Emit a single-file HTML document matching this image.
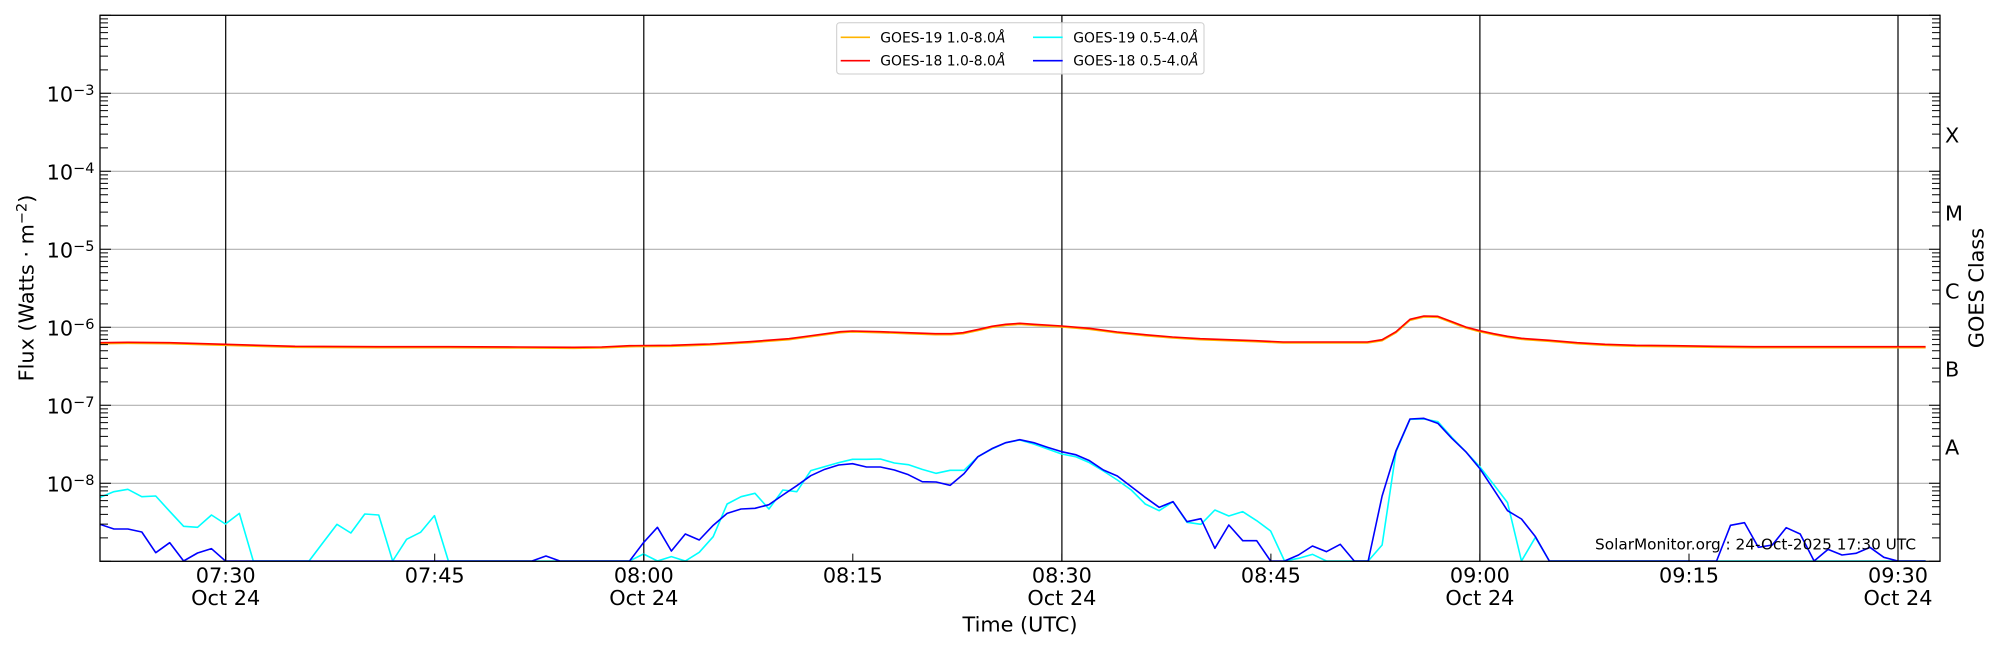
<!DOCTYPE html>
<html><head><meta charset="utf-8"><style>
html,body{margin:0;padding:0;background:#fff;}
svg{display:block;font-family:"DejaVu Sans","Liberation Sans",sans-serif;}
</style></head><body>
<svg width="2000" height="650" viewBox="0 0 2000 650" xmlns="http://www.w3.org/2000/svg">
<rect width="2000" height="650" fill="#fff"/>
<defs>
<clipPath id="ax"><rect x="100" y="15.3" width="1840" height="546"/></clipPath>
<path id="mnL" d="M100,-23.48h8M100,-37.22h8M100,-46.96h8M100,-54.52h8M100,-60.70h8M100,-65.92h8M100,-70.44h8M100,-74.43h8"/>
<path id="mnR" d="M1940,-23.48h-8M1940,-37.22h-8M1940,-46.96h-8M1940,-54.52h-8M1940,-60.70h-8M1940,-65.92h-8M1940,-70.44h-8M1940,-74.43h-8"/>
</defs>
<!-- grid -->
<g stroke="#b0b0b0" stroke-width="1.1">
<path d="M100,93.3H1940M100,171.3H1940M100,249.3H1940M100,327.3H1940M100,405.3H1940M100,483.3H1940"/>
</g>
<!-- vertical half-hour lines -->
<g stroke="#000" stroke-width="1.2">
<path d="M225.7,15.3V561.3M643.8,15.3V561.3M1061.9,15.3V561.3M1479.9,15.3V561.3M1898,15.3V561.3"/>
</g>
<!-- data -->
<g clip-path="url(#ax)">
<g transform="translate(100,300) scale(13.936,0.333333)" fill="none" stroke-linejoin="round">
<g transform="translate(0,3)">
<polyline vector-effect="non-scaling-stroke" stroke="#ffb400" stroke-width="1.6" points="0,128 2,127 5,128 9,133 14,139 20,140 25,140 30,141 34,142 36,141 38,137 41,136 43,133 43.77,132 46.61,125 49.44,116 50.86,108 53.13,95 53.98,93 55.97,95 57.95,98 59.94,101 61.07,101 61.93,98 63.06,88 64,79 64.99,73 66.01,70 67.03,73 69.02,78 71,85 72.99,96 74.98,104 76.96,111 78.95,116 80.93,119 82.92,122 84.9,126 88.25,126 90.94,126 92,119 93,95 94,58 95,48 96,49 97,65 98,81 99,92 100,101 101,109 102,115 104,121 106,128 108,133 110.2,136 113,137 115.9,139 118.7,140 131,140"/>
</g>
<polyline vector-effect="non-scaling-stroke" stroke="#ff0000" stroke-width="1.6" points="0,128 2,127 5,128 9,133 14,139 20,140 25,140 30,141 34,142 36,141 38,137 41,136 43,133 43.77,132 46.61,125 49.44,116 50.86,108 53.13,95 53.98,93 55.97,95 57.95,98 59.94,101 61.07,101 61.93,98 63.06,88 64,79 64.99,73 66.01,70 67.03,73 69.02,78 71,85 72.99,96 74.98,104 76.96,111 78.95,116 80.93,119 82.92,122 84.9,126 88.25,126 90.94,126 92,119 93,95 94,58 95,48 96,49 97,65 98,81 99,92 100,101 101,109 102,115 104,121 106,128 108,133 110.2,136 113,137 115.9,139 118.7,140 131,140"/>
<polyline vector-effect="non-scaling-stroke" stroke="#00ffff" stroke-width="1.6" points="0,592 1,575 2,568 3,590 4,588 5,634 6,679 7,682 8,645 9,672 10,640 11,783 15,783 16,728 17,673 18,699 19,642 20,645 21,783 22,718 23,697 24,647 25,783 38,783 39,762 40,783 41,770 42,783 43,757 44,710 45,612 46,590 47,580 48,627 49,570 50,575 51,512 52,500 53,488 54,478 55,478 56,477 57,489 58,494 59,508 60,520 61,511 62,511 63,470 64,447 65,428 66,420 67,432 68,447 69,462 70,470 71,488 72,513 73,540 74,570 75,612 76,632 77,605 78,667 79,673 80,630 81,648 82,635 83,662 84,693 85,783 86,775 87,763 88,783 91,783 92,735 93,455 94,358 95,357 96,365 97,412 98,455 99,500 100,553 101,608 102,783 103,712 104,783 131,783"/>
<polyline vector-effect="non-scaling-stroke" stroke="#0000ff" stroke-width="1.6" points="0,673 1,687 2,687 3,696 4,758 5,728 6,783 7,759 8,746 9,783 31,783 32,768 33,783 38,783 39,728 40,682 41,753 42,702 43,720 44,676 45,640 46,627 47,625 48,614 49,585 50,557 51,527 52,508 53,495 54,491 55,501 56,501 57,510 58,524 59,545 60,546 61,556 62,521 63,470 64,446 65,428 66,419 67,428 68,442 69,455 70,464 71,482 72,510 73,528 74,560 75,592 76,622 77,605 78,665 79,656 80,745 81,675 82,722 83,722 84,783 85,783 86,765 87,738 88,755 89,733 90,783 91,783 92,588 93,452 94,357 95,355 96,370 97,415 98,455 99,505 100,568 101,632 102,657 103,710 104,783 116,783 117,676 118,668 119,742 120,735 121,683 122,702 123,783 124,748 125,765 126,760 127,742 128,772 129,783 131,783"/>
</g>
</g>
<!-- ticks -->
<g stroke="#000" stroke-width="1" fill="none">
<path d="M100,15.3h11M100,93.3h11M100,171.3h11M100,249.3h11M100,327.3h11M100,405.3h11M100,483.3h11M100,561.3h11"/>
<path d="M1940,15.3h-11M1940,93.3h-11M1940,171.3h-11M1940,249.3h-11M1940,327.3h-11M1940,405.3h-11M1940,483.3h-11M1940,561.3h-11"/>
<use href="#mnL" transform="translate(0,561.3)"/><use href="#mnL" transform="translate(0,483.3)"/><use href="#mnL" transform="translate(0,405.3)"/><use href="#mnL" transform="translate(0,327.3)"/><use href="#mnL" transform="translate(0,249.3)"/><use href="#mnL" transform="translate(0,171.3)"/><use href="#mnL" transform="translate(0,93.3)"/>
<use href="#mnR" transform="translate(0,561.3)"/><use href="#mnR" transform="translate(0,483.3)"/><use href="#mnR" transform="translate(0,405.3)"/><use href="#mnR" transform="translate(0,327.3)"/><use href="#mnR" transform="translate(0,249.3)"/><use href="#mnR" transform="translate(0,171.3)"/><use href="#mnR" transform="translate(0,93.3)"/>
<path d="M225.7,561.3v-7.7M434.7,561.3v-7.7M643.8,561.3v-7.7M852.8,561.3v-7.7M1061.9,561.3v-7.7M1270.9,561.3v-7.7M1479.9,561.3v-7.7M1689,561.3v-7.7M1898,561.3v-7.7"/>
</g>
<!-- spines -->
<rect x="100" y="15.3" width="1840" height="546" fill="none" stroke="#000" stroke-width="1.3"/>
<!-- y tick labels -->
<g font-size="20.8" fill="#000">
<text x="46.6" y="101.7">10<tspan font-size="14.5" dy="-6.7">−3</tspan></text>
<text x="46.6" y="179.7">10<tspan font-size="14.5" dy="-6.7">−4</tspan></text>
<text x="46.6" y="257.7">10<tspan font-size="14.5" dy="-6.7">−5</tspan></text>
<text x="46.6" y="335.7">10<tspan font-size="14.5" dy="-6.7">−6</tspan></text>
<text x="46.6" y="413.7">10<tspan font-size="14.5" dy="-6.7">−7</tspan></text>
<text x="46.6" y="491.7">10<tspan font-size="14.5" dy="-6.7">−8</tspan></text>
</g>
<!-- right class labels -->
<g font-size="20.8" fill="#000">
<text x="1945" y="142.3">X</text>
<text x="1945" y="220.3">M</text>
<text x="1945" y="298.3">C</text>
<text x="1945" y="376.3">B</text>
<text x="1945" y="454.3">A</text>
</g>
<!-- x tick labels -->
<g font-size="20.8" fill="#000" text-anchor="middle">
<text x="225.7" y="582.3">07:30</text><text x="225.7" y="605">Oct 24</text>
<text x="434.7" y="582.3">07:45</text>
<text x="643.8" y="582.3">08:00</text><text x="643.8" y="605">Oct 24</text>
<text x="852.8" y="582.3">08:15</text>
<text x="1061.9" y="582.3">08:30</text><text x="1061.9" y="605">Oct 24</text>
<text x="1270.9" y="582.3">08:45</text>
<text x="1479.9" y="582.3">09:00</text><text x="1479.9" y="605">Oct 24</text>
<text x="1689" y="582.3">09:15</text>
<text x="1898" y="582.3">09:30</text><text x="1898" y="605">Oct 24</text>
</g>
<!-- axis labels -->
<text x="1020" y="631.7" font-size="20.8" text-anchor="middle" fill="#000">Time (UTC)</text>
<text transform="translate(33.3,288) rotate(-90)" font-size="20.8" text-anchor="middle" fill="#000">Flux (Watts · m<tspan font-size="14.5" dy="-7">−2</tspan><tspan dy="7">)</tspan></text>
<text transform="translate(1983.3,288) rotate(-90)" font-size="20.8" text-anchor="middle" fill="#000">GOES Class</text>
<!-- watermark -->
<text x="1916" y="549.3" font-size="15.3" text-anchor="end" fill="#000">SolarMonitor.org : 24-Oct-2025 17:30 UTC</text>
<!-- legend -->
<rect x="836.7" y="22.7" width="367.3" height="51.3" rx="3" fill="#fff" fill-opacity="0.8" stroke="#cccccc" stroke-width="1"/>
<g stroke-width="1.6">
<line x1="840.7" y1="37.3" x2="870" y2="37.3" stroke="#ffb400"/>
<line x1="840.7" y1="60.7" x2="870" y2="60.7" stroke="#ff0000"/>
<line x1="1033" y1="37.3" x2="1062.7" y2="37.3" stroke="#00ffff"/>
<line x1="1033" y1="60.7" x2="1062.7" y2="60.7" stroke="#0000ff"/>
</g>
<g font-size="13.9" fill="#000">
<text x="880.3" y="42.3">GOES-19 1.0-8.0<tspan font-style="italic">Å</tspan></text>
<text x="880.3" y="65.3">GOES-18 1.0-8.0<tspan font-style="italic">Å</tspan></text>
<text x="1073.3" y="42.3">GOES-19 0.5-4.0<tspan font-style="italic">Å</tspan></text>
<text x="1073.3" y="65.3">GOES-18 0.5-4.0<tspan font-style="italic">Å</tspan></text>
</g>
</svg>
</body></html>
